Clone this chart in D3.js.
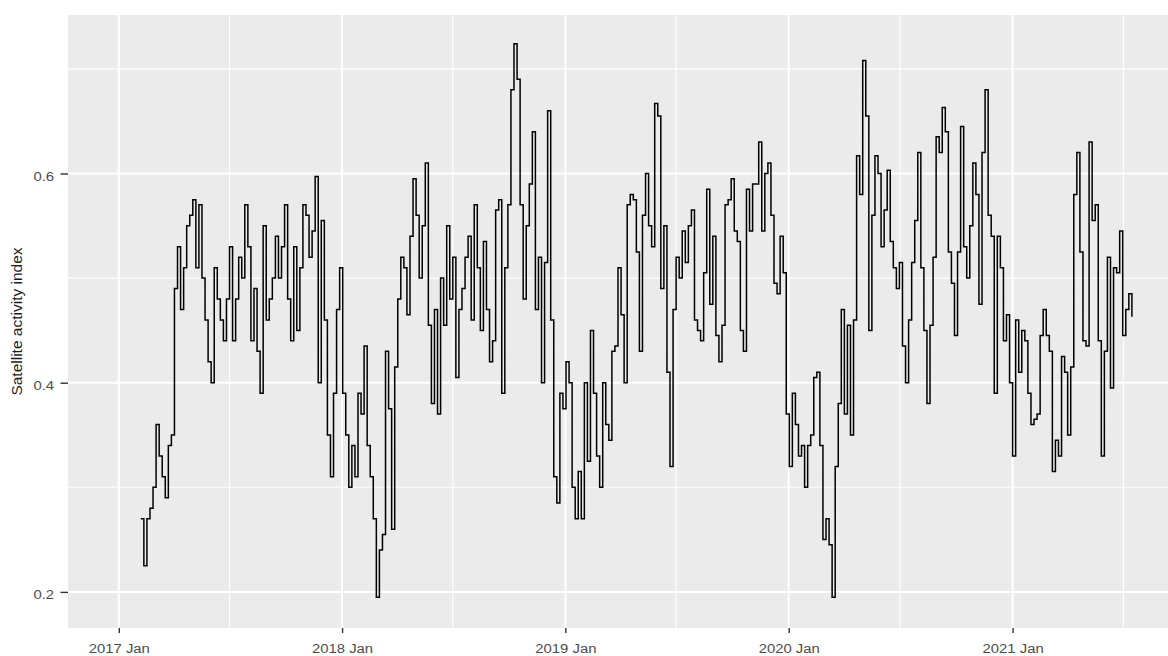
<!DOCTYPE html>
<html>
<head>
<meta charset="utf-8">
<script src="https://cdn.jsdelivr.net/npm/d3@7"></script>
<style>
  body { margin: 0; background: #fff; }
  svg { display: block; }
</style>
</head>
<body>
<div id="chart"></div>
<script>
// series: one value every 5 days from 6 Feb 2017
const startDate = new Date(2017, 1, 6);
const stepDays = 5;
const activityIndex = [
    0.27, 0.225, 0.27, 0.28, 0.30, 0.36, 0.33, 0.31, 0.29, 0.34,
    0.35, 0.49, 0.53, 0.47, 0.51, 0.55, 0.56, 0.575, 0.51, 0.57,
    0.50, 0.46, 0.42, 0.40, 0.51, 0.48, 0.46, 0.44, 0.48, 0.53,
    0.44, 0.48, 0.52, 0.50, 0.57, 0.53, 0.44, 0.49, 0.43, 0.39,
    0.55, 0.46, 0.48, 0.50, 0.54, 0.50, 0.53, 0.57, 0.48, 0.44,
    0.53, 0.45, 0.51, 0.57,
    0.56, 0.52, 0.545, 0.597, 0.40, 0.555, 0.46, 0.35, 0.31, 0.39,
    0.47, 0.51, 0.39, 0.35, 0.30, 0.34, 0.31, 0.39, 0.37, 0.435,
    0.34, 0.31, 0.27, 0.195, 0.24, 0.255, 0.43, 0.375, 0.26, 0.415,
    0.48, 0.52, 0.51, 0.465, 0.54, 0.595, 0.56, 0.50, 0.55, 0.61,
    0.455, 0.38, 0.47, 0.37, 0.50, 0.455, 0.55, 0.48, 0.52, 0.405,
    0.47, 0.49, 0.52, 0.54,
    0.46, 0.57, 0.51, 0.45, 0.535, 0.47, 0.42, 0.44, 0.565, 0.575,
    0.39, 0.51, 0.57, 0.68, 0.724, 0.69, 0.57, 0.48, 0.55, 0.59,
    0.64, 0.47, 0.52, 0.40, 0.515, 0.66, 0.46, 0.31, 0.285, 0.39,
    0.375, 0.42, 0.40, 0.30, 0.27, 0.315, 0.27, 0.40, 0.325, 0.45,
    0.39, 0.33, 0.30, 0.40, 0.36, 0.345, 0.43, 0.435, 0.51, 0.465,
    0.40, 0.57, 0.58,
    0.575, 0.525, 0.43, 0.56, 0.60, 0.55, 0.53, 0.667, 0.655, 0.49,
    0.55, 0.41, 0.32, 0.47, 0.52, 0.50, 0.545, 0.515, 0.55, 0.565,
    0.46, 0.45, 0.44, 0.505, 0.585, 0.475, 0.54, 0.445, 0.42, 0.455,
    0.57, 0.575, 0.595, 0.545, 0.535, 0.45, 0.43, 0.585, 0.545, 0.59,
    0.59, 0.63, 0.545, 0.60, 0.61, 0.56, 0.495, 0.485, 0.54, 0.505,
    0.37, 0.32, 0.39, 0.36, 0.33,
    0.34, 0.30, 0.34, 0.35, 0.405, 0.41, 0.34, 0.25, 0.27, 0.245,
    0.195, 0.32, 0.38, 0.47, 0.37, 0.455, 0.35, 0.46, 0.617, 0.58,
    0.708, 0.655, 0.45, 0.56, 0.617, 0.60, 0.53, 0.565, 0.603, 0.535,
    0.51, 0.49, 0.515, 0.435, 0.40, 0.46, 0.515, 0.555, 0.62, 0.51,
    0.45, 0.38, 0.455, 0.52, 0.635, 0.62, 0.663, 0.64, 0.525, 0.495,
    0.445, 0.525, 0.645, 0.53,
    0.50, 0.55, 0.61, 0.58, 0.475, 0.62, 0.68, 0.56, 0.54, 0.39,
    0.54, 0.51, 0.44, 0.465, 0.40, 0.33, 0.46, 0.41, 0.45, 0.44,
    0.39, 0.36, 0.365, 0.37, 0.445, 0.47, 0.445, 0.43, 0.315, 0.345,
    0.33, 0.425, 0.41, 0.35, 0.415, 0.58, 0.62, 0.525, 0.44, 0.435,
    0.63, 0.555, 0.57, 0.44, 0.33, 0.43, 0.52, 0.395, 0.51, 0.505,
    0.545, 0.445, 0.47, 0.485, 0.463
];

const xTickYears = [2017, 2018, 2019, 2020, 2021];
const yTicks = [0.2, 0.4, 0.6];
const yMinorTicks = [0.3, 0.5, 0.7];
const yTitle = 'Satellite activity index';

const width = 1168;
const height = 656;
const panel = { left: 68, right: 1168, top: 15, bottom: 628 };
const font = '"Liberation Sans", Arial, sans-serif';

const data = activityIndex.map((v, i) => ({
    date: d3.timeDay.offset(startDate, i * stepDays),
    value: v
}));

const x = d3.scaleTime()
    .domain([new Date(2016, 9, 10), new Date(2021, 8, 12)])
    .range([panel.left, panel.right]);

const y = d3.scaleLinear()
    .domain([0.1655, 0.7515])
    .range([panel.bottom, panel.top]);

const svg = d3.select('#chart')
    .append('svg')
    .attr('width', width)
    .attr('height', height);

svg.append('rect')
    .attr('x', panel.left)
    .attr('y', panel.top)
    .attr('width', panel.right - panel.left)
    .attr('height', panel.bottom - panel.top)
    .attr('fill', '#ebebeb');

const majorX = xTickYears.map(yr => new Date(yr, 0, 1));
const minorX = xTickYears.map(yr => new Date(yr, 6, 1));

// minor grid
svg.append('g').selectAll('line')
    .data(minorX)
    .enter().append('line')
    .attr('x1', d => x(d)).attr('x2', d => x(d))
    .attr('y1', panel.top).attr('y2', panel.bottom)
    .attr('stroke', '#fff').attr('stroke-width', 1.1);

svg.append('g').selectAll('line')
    .data(yMinorTicks)
    .enter().append('line')
    .attr('x1', panel.left).attr('x2', panel.right)
    .attr('y1', d => y(d)).attr('y2', d => y(d))
    .attr('stroke', '#fff').attr('stroke-width', 1.1);

// major grid
svg.append('g').selectAll('line')
    .data(majorX)
    .enter().append('line')
    .attr('x1', d => x(d)).attr('x2', d => x(d))
    .attr('y1', panel.top).attr('y2', panel.bottom)
    .attr('stroke', '#fff').attr('stroke-width', 2);

svg.append('g').selectAll('line')
    .data(yTicks)
    .enter().append('line')
    .attr('x1', panel.left).attr('x2', panel.right)
    .attr('y1', d => y(d)).attr('y2', d => y(d))
    .attr('stroke', '#fff').attr('stroke-width', 2);

const line = d3.line()
    .x(d => x(d.date))
    .y(d => y(d.value))
    .curve(d3.curveStepAfter);

svg.append('path')
    .datum(data)
    .attr('fill', 'none')
    .attr('stroke', '#000')
    .attr('stroke-width', 1.5)
    .attr('d', line);

// axes
const xAxis = svg.append('g')
    .attr('transform', `translate(0,${panel.bottom})`)
    .call(d3.axisBottom(x)
        .tickValues(majorX)
        .tickFormat(d3.timeFormat('%Y %b'))
        .tickSize(5));

xAxis.attr('font-family', font);
xAxis.select('.domain').remove();
xAxis.selectAll('.tick line').attr('stroke', '#333').attr('stroke-width', 1.4);
xAxis.selectAll('.tick text')
    .attr('y', 25)
    .attr('dy', 0)
    .attr('fill', '#4d4d4d')
    .style('font-size', '13.5px')
    .attr('transform', 'scale(1.1,1)');

const yAxis = svg.append('g')
    .attr('transform', `translate(${panel.left},0)`)
    .call(d3.axisLeft(y)
        .tickValues(yTicks)
        .tickFormat(d3.format('.1f'))
        .tickSize(7.5));

yAxis.attr('font-family', font);
yAxis.select('.domain').remove();
yAxis.selectAll('.tick line').attr('stroke', '#333').attr('stroke-width', 1.4);
yAxis.selectAll('.tick text')
    .attr('x', -12.7)
    .attr('dy', '0.5em')
    .attr('fill', '#4d4d4d')
    .style('font-size', '13.5px')
    .attr('transform', 'scale(1.1,1)');

svg.append('text')
    .attr('transform', `translate(22, ${(panel.top + panel.bottom) / 2}) rotate(-90)`)
    .attr('text-anchor', 'middle')
    .attr('font-family', font)
    .style('font-size', '15.5px')
    .attr('fill', '#1a1a1a')
    .text(yTitle);
</script>
</body>
</html>
